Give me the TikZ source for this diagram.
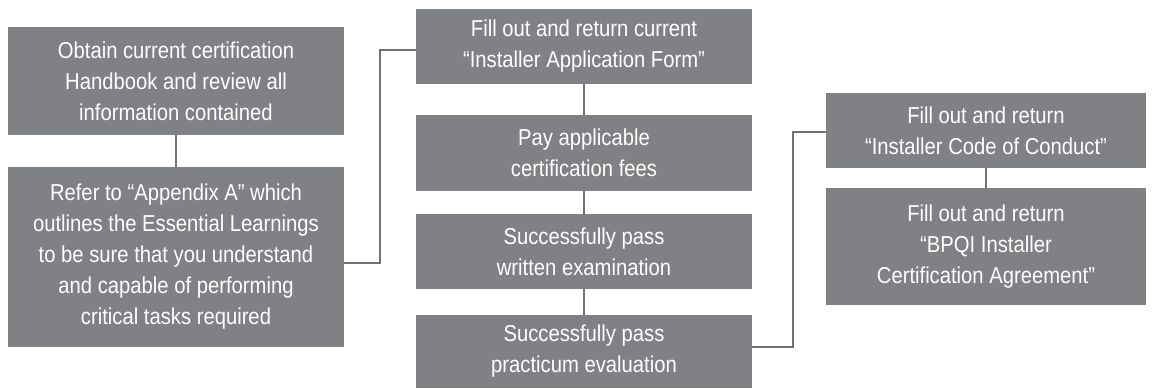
\documentclass[tikz,border=0pt]{standalone}
\usepackage{fontspec}
\setmainfont{Liberation Sans}[FakeStretch=0.88]
\usepackage{tikz}
\usetikzlibrary{positioning}
\definecolor{boxgray}{RGB}{128,129,132}
\definecolor{linegray}{RGB}{112,113,116}

\begin{document}
\begin{tikzpicture}[x=0.5pt,y=-0.5pt,
  stepbox/.style={fill=boxgray,text=white,align=center,inner sep=0pt,font=\fontsize{11.5}{15.5}\selectfont},
  wide/.style={minimum width=168pt},
  link/.style={draw=linegray,line width=1pt}]
  \useasboundingbox (0,0) rectangle (1155,389);
  %left
  \node[stepbox,wide,minimum height=54pt] (handbook) at (176,81) {Obtain current certification\\Handbook and review all\\information contained};
  \node[stepbox,wide,minimum height=90pt] (appendix) at (176,257) {Refer to ``Appendix A'' which\\outlines the Essential Learnings\\to be sure that you understand\\and capable of performing\\critical tasks required};
  %middle
  \node[stepbox,wide,minimum height=37.5pt] (appform) at (584,46.5) {Fill out and return current\\``Installer Application Form''};
  \node[stepbox,wide,minimum height=38pt] (fees) at (584,153) {Pay applicable\\certification fees};
  \node[stepbox,wide,minimum height=37.5pt] (written) at (584,251.5) {Successfully pass\\written examination};
  \node[stepbox,wide,minimum height=36.5pt] (practicum) at (584,351.5) {Successfully pass\\practicum evaluation};
  %right
  \node[stepbox,minimum width=160pt,minimum height=37.5pt] (conduct) at (986,130.5) {Fill out and return\\``Installer Code of Conduct''};
  \node[stepbox,minimum width=160pt,minimum height=58.5pt] (agreement) at (986,246.5) {Fill out and return\\``BPQI Installer\\Certification Agreement''};

  \draw[link] (handbook) -- (appendix);
  \draw[link] ([yshift=-3pt]appendix.east) -- ++(18pt,0) |- ([yshift=-1.75pt]appform.west);
  \draw[link] (appform) -- (fees);
  \draw[link] (fees) -- (written);
  \draw[link] (written) -- (practicum);
  \draw[link] ([yshift=2.25pt]practicum.east) -- ++(20.5pt,0) |- ([yshift=-0.75pt]conduct.west);
  \draw[link] (conduct) -- (agreement);
\end{tikzpicture}
\end{document}
